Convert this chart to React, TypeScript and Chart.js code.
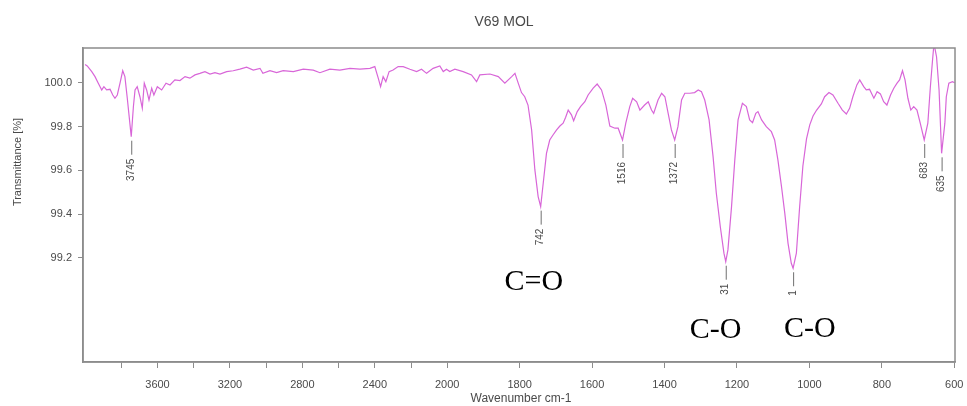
import React, { useEffect, useRef } from 'react';
import { Chart, registerables } from 'chart.js';

Chart.register(...registerables);

const TITLE = 'V69 MOL';
const X_TITLE = 'Wavenumber cm-1';
const Y_TITLE = 'Transmittance [%]';

const wavenumbers = [
  4000, 3988, 3963, 3945, 3927, 3908, 3896, 3881, 3862, 3847, 3835, 3822, 3807, 3792, 3780, 3767,
  3745, 3733, 3724, 3712, 3697, 3684, 3673, 3660, 3647, 3632, 3620, 3601, 3577, 3553, 3531, 3504,
  3476, 3448, 3421, 3393, 3366, 3338, 3310, 3283, 3255, 3218, 3182, 3145, 3108, 3071, 3034, 3018,
  2979, 2942, 2906, 2850, 2795, 2740, 2703, 2648, 2593, 2537, 2482, 2427, 2400, 2381, 2368, 2354,
  2339, 2321, 2299, 2271, 2243, 2206, 2169, 2142, 2114, 2078, 2041, 2022, 2004, 1993, 1979, 1956,
  1933, 1919, 1910, 1882, 1859, 1841, 1822, 1813, 1804, 1795, 1786, 1777, 1767, 1758, 1749, 1742,
  1735, 1726, 1717, 1708, 1698, 1689, 1680, 1673, 1666, 1657, 1651, 1641, 1632, 1620, 1611, 1597,
  1586, 1574, 1562, 1551, 1537, 1528, 1516, 1507, 1496, 1488, 1477, 1468, 1455, 1445, 1436, 1430,
  1418, 1408, 1399, 1390, 1381, 1372, 1363, 1353, 1344, 1330, 1317, 1307, 1298, 1289, 1277, 1266,
  1257, 1246, 1236, 1231, 1225, 1215, 1206, 1197, 1185, 1174, 1165, 1157, 1148, 1142, 1132, 1119,
  1105, 1096, 1087, 1077, 1068, 1059, 1050, 1045, 1036, 1027, 1018, 1008, 999, 990, 980, 967,
  958, 946, 935, 921, 909, 898, 889, 880, 869, 861, 850, 843, 834, 822, 813, 804,
  795, 786, 776, 767, 758, 751, 743, 736, 728, 720, 712, 703, 694, 683, 673, 666,
  660, 656, 649, 642, 635, 626, 622, 615, 605, 599,
];

const transmittance = [
  100.085, 100.078, 100.052, 100.029, 99.999, 99.968, 99.983, 99.968, 99.971, 99.945, 99.930, 99.945, 99.999, 100.056, 100.029, 99.931,
  99.754, 99.892, 99.968, 99.983, 99.937, 99.884, 99.999, 99.968, 99.922, 99.976, 99.945, 99.983, 99.968, 99.999, 99.991, 100.014,
  100.011, 100.029, 100.022, 100.037, 100.044, 100.052, 100.041, 100.047, 100.041, 100.052, 100.056, 100.063, 100.072, 100.059, 100.067, 100.044,
  100.056, 100.047, 100.056, 100.052, 100.063, 100.059, 100.047, 100.063, 100.059, 100.067, 100.063, 100.067, 100.075, 100.022, 99.983, 100.029,
  100.006, 100.052, 100.059, 100.075, 100.075, 100.063, 100.052, 100.063, 100.044, 100.067, 100.078, 100.052, 100.063, 100.052, 100.063, 100.052,
  100.037, 100.006, 100.037, 100.041, 100.029, 99.999, 100.029, 100.044, 99.999, 99.956, 99.937, 99.899, 99.785, 99.602, 99.480, 99.434,
  99.541, 99.678, 99.739, 99.762, 99.785, 99.803, 99.816, 99.843, 99.876, 99.854, 99.827, 99.869, 99.892, 99.914, 99.945, 99.976,
  99.995, 99.968, 99.899, 99.803, 99.793, 99.793, 99.739, 99.816, 99.892, 99.930, 99.914, 99.876, 99.899, 99.914, 99.876, 99.861,
  99.922, 99.953, 99.937, 99.861, 99.785, 99.739, 99.800, 99.922, 99.953, 99.953, 99.956, 99.968, 99.960, 99.922, 99.831, 99.663,
  99.495, 99.342, 99.221, 99.182, 99.236, 99.434, 99.648, 99.831, 99.907, 99.892, 99.831, 99.818, 99.861, 99.869, 99.831, 99.800,
  99.777, 99.739, 99.648, 99.525, 99.404, 99.266, 99.175, 99.152, 99.221, 99.432, 99.620, 99.744, 99.808, 99.849, 99.876, 99.904,
  99.937, 99.956, 99.945, 99.907, 99.876, 99.858, 99.884, 99.937, 99.991, 100.014, 99.983, 99.968, 99.971, 99.930, 99.960, 99.950,
  99.914, 99.899, 99.945, 99.976, 99.999, 100.014, 100.056, 100.014, 99.930, 99.876, 99.892, 99.876, 99.816, 99.739, 99.816, 99.983,
  100.105, 100.180, 100.120, 99.968, 99.678, 99.816, 99.937, 99.999, 100.006, 100.001,
];

const xTickLabels = [3600, 3200, 2800, 2400, 2000, 1800, 1600, 1400, 1200, 1000, 800, 600];
const xMinorTicks = [3800, 3400, 3000, 2600, 2200];
const yTicks = [99.2, 99.4, 99.6, 99.8, 100.0];

const peakWavenumbers = [3745, 1742, 1516, 1372, 1231, 1045, 683, 635];
const peakLabels = ['3745', '742', '1516', '1372', '31', '1', '683', '635'];

const bandLabels = ['C=O', 'C-O', 'C-O'];
const bandWavenumbers = [1761, 1259, 999];
const bandTransmittance = [99.053, 98.833, 98.838];

// Axis break: 4000-2000 compressed by 2 relative to 2000-600
const toU = (w: number) => (w > 2000 ? 2000 + (w - 2000) / 2 : w);
const fromU = (u: number) => (u > 2000 ? 2000 + (u - 2000) * 2 : u);

const SANS = '"Liberation Sans", Arial, sans-serif';

export default function App() {
  const ref = useRef<HTMLCanvasElement>(null);

  useEffect(() => {
    document.body.style.margin = '0';
    const canvas = ref.current;
    if (!canvas) return;

    const peakValues = peakWavenumbers.map((w) => transmittance[wavenumbers.indexOf(w)]);

    const annotations = {
      id: 'irAnnotations',
      afterDraw(chart: any) {
        const { ctx, chartArea, scales } = chart;
        const x = scales.x;
        const y = scales.y;
        ctx.save();
        // frame
        ctx.strokeStyle = '#8c8c8c';
        ctx.lineWidth = 1.5;
        ctx.strokeRect(chartArea.left, chartArea.top, chartArea.right - chartArea.left, chartArea.bottom - chartArea.top);

        // main title
        ctx.fillStyle = '#4a4a4a';
        ctx.font = `14px ${SANS}`;
        ctx.textAlign = 'center';
        ctx.textBaseline = 'middle';
        ctx.fillText(TITLE, chartArea.left + 421, 22);

        // x title
        ctx.font = `12px ${SANS}`;
        ctx.fillText(X_TITLE, (chartArea.left + chartArea.right) / 2 + 2, 399);

        // y title
        ctx.save();
        ctx.translate(18, 162);
        ctx.rotate(-Math.PI / 2);
        ctx.font = `11px ${SANS}`;
        ctx.fillText(Y_TITLE, 0, 0);
        ctx.restore();

        // peak labels
        peakWavenumbers.forEach((w, i) => {
          const px = x.getPixelForValue(toU(w));
          const py = y.getPixelForValue(peakValues[i]);
          ctx.strokeStyle = '#707070';
          ctx.lineWidth = 1;
          ctx.beginPath();
          ctx.moveTo(px + 0.5, py + 4);
          ctx.lineTo(px + 0.5, py + 18);
          ctx.stroke();
          ctx.save();
          ctx.translate(px, py + 22);
          ctx.rotate(-Math.PI / 2);
          ctx.font = `10px ${SANS}`;
          ctx.fillStyle = '#4a4a4a';
          ctx.textAlign = 'right';
          ctx.textBaseline = 'middle';
          ctx.fillText(peakLabels[i], 0, 0);
          ctx.restore();
        });

        // band annotations
        ctx.font = '30px "Liberation Serif", "Times New Roman", serif';
        ctx.fillStyle = '#000';
        ctx.textAlign = 'center';
        ctx.textBaseline = 'alphabetic';
        bandLabels.forEach((t, i) => {
          const bx = x.getPixelForValue(toU(bandWavenumbers[i]));
          const by = y.getPixelForValue(bandTransmittance[i]);
          ctx.fillText(t, bx, by);
        });
        ctx.restore();
      },
    };

    const chart = new Chart(canvas, {
      type: 'line',
      data: {
        datasets: [
          {
            data: wavenumbers.map((w, i) => ({ x: toU(w), y: transmittance[i] })),
            borderColor: '#d866d8',
            borderWidth: 1.2,
            pointRadius: 0,
            tension: 0,
            fill: false,
          },
        ],
      },
      options: {
        responsive: false,
        animation: false,
        devicePixelRatio: 1,
        layout: { padding: { left: 0, top: 48, right: 12, bottom: 0 } },
        plugins: {
          legend: { display: false },
          title: { display: false },
          tooltip: { enabled: false },
        },
        scales: {
          x: {
            type: 'linear',
            reverse: true,
            min: 598,
            max: 3005.7,
            afterBuildTicks: (axis: any) => {
              axis.ticks = [...xTickLabels, ...xMinorTicks]
                .map((w) => toU(w))
                .sort((a, b) => a - b)
                .map((v) => ({ value: v }));
            },
            afterFit: (axis: any) => {
              axis.height = 44;
            },
            ticks: {
              autoSkip: false,
              maxRotation: 0,
              padding: 10,
              color: '#4a4a4a',
              font: { family: SANS, size: 11 },
              callback: (value: any) => {
                const w = Math.round(fromU(Number(value)));
                return xTickLabels.includes(w) ? String(w) : '';
              },
            },
            grid: {
              drawOnChartArea: false,
              drawTicks: true,
              tickLength: 6,
              color: '#8c8c8c',
              tickColor: '#8c8c8c',
            },
            border: { display: true, color: '#8c8c8c', width: 1.5 },
          },
          y: {
            type: 'linear',
            min: 98.723,
            max: 100.16,
            afterBuildTicks: (axis: any) => {
              axis.ticks = yTicks.map((v) => ({ value: v }));
            },
            afterFit: (axis: any) => {
              axis.width = 83;
            },
            ticks: {
              padding: 6,
              color: '#4a4a4a',
              font: { family: SANS, size: 11 },
              callback: (value: any) => Number(value).toFixed(1),
            },
            grid: {
              drawOnChartArea: false,
              drawTicks: true,
              tickLength: 5,
              color: '#8c8c8c',
              tickColor: '#8c8c8c',
            },
            border: { display: true, color: '#8c8c8c', width: 1.5 },
          },
        },
      },
      plugins: [annotations],
    });

    return () => chart.destroy();
  }, []);

  return (
    <div style={{ position: 'fixed', left: 0, top: 0, width: 967, height: 406, background: '#fff' }}>
      <canvas ref={ref} width={967} height={406} style={{ width: 967, height: 406, display: 'block' }} />
    </div>
  );
}
